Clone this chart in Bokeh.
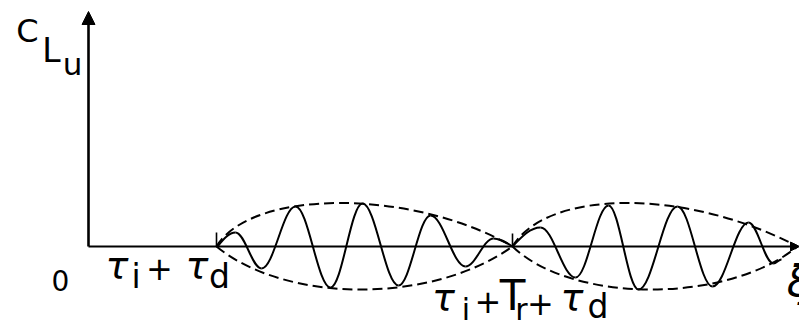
from bokeh.plotting import figure
from bokeh.models import Range1d, Arrow, NormalHead, ColumnDataSource
from bokeh.core.properties import value
from bokeh.embed import file_html
from bokeh.resources import INLINE

# Crests and troughs of the unsteady lift coefficient C_Lu along xi (drawing units)
burst1_xi = [217, 235, 261, 295, 330, 362, 398, 430, 465, 493, 512]
burst1_cl = [0, 14, -22, 40, -41, 43, -39, 31, -20, 8, 0]
burst2_xi = [512, 540, 575, 608, 638, 677, 712, 748, 773, 781]
burst2_cl = [0, 19, -31, 41, -43, 40, -40, 24, -17, -13]

# Dashed envelopes of the two bursts: start, end and peak amplitude
env_start = [216, 216, 512, 512]
env_end = [512, 512, 797, 797]
env_peak = [43.5, -43, 43.5, -43]

# Onsets of the bursts on the xi axis
onset_xi = [216, 512]

AXIS_Y = 246  # height of the xi axis in screen pixels from the top
W, H = 799, 324

p = figure(width=W, height=H, x_range=Range1d(0, W), y_range=Range1d(AXIS_Y - H, AXIS_Y),
           x_axis_type=None, y_axis_type=None, toolbar_location=None,
           output_backend="svg", min_border=0)
p.grid.visible = False
p.outline_line_color = None
p.background_fill_color = "white"
p.border_fill_color = "white"


def half_waves(xs, ys):
    """Cubic Bezier pieces between consecutive extrema (quarter / half sine shapes)."""
    cols = {k: [] for k in ("x0", "y0", "x1", "y1", "cx0", "cy0", "cx1", "cy1")}
    for xa, ya, xb, yb in zip(xs, ys, xs[1:], ys[1:]):
        dx = xb - xa
        if ya == 0:
            c0 = (xa + 0.334 * dx, ya + 0.525 * (yb - ya))
            c1 = (xa + 0.64 * dx, yb)
        elif yb == 0:
            c0 = (xa + 0.36 * dx, ya)
            c1 = (xa + 0.666 * dx, yb + 0.525 * (ya - yb))
        else:
            c0 = (xa + 0.364 * dx, ya)
            c1 = (xb - 0.364 * dx, yb)
        cols["x0"].append(xa); cols["y0"].append(ya)
        cols["x1"].append(xb); cols["y1"].append(yb)
        cols["cx0"].append(c0[0]); cols["cy0"].append(c0[1])
        cols["cx1"].append(c1[0]); cols["cy1"].append(c1[1])
    return ColumnDataSource(cols)


# envelopes: steeper where each burst builds up, gentler where it decays
rise = [35, 70, 35, 60]
fall = [100, 80, 110, 70]
env = ColumnDataSource(dict(
    x0=env_start, y0=[0] * 4, x1=env_end, y1=[0] * 4,
    cx0=[s + r for s, r in zip(env_start, rise)], cy0=[a / 0.75 for a in env_peak],
    cx1=[e - f for e, f in zip(env_end, fall)], cy1=[a / 0.75 for a in env_peak],
))
p.bezier(x0="x0", y0="y0", x1="x1", y1="y1", cx0="cx0", cy0="cy0", cx1="cx1", cy1="cy1",
         source=env, line_color="black", line_width=2, line_dash="10 5")

# xi axis and C_Lu axis
p.add_layout(Arrow(x_start=88, y_start=0, x_end=799, y_end=0, line_width=2.2, line_color="black",
                   end=NormalHead(size=9, fill_color="black", line_color="black", line_width=1)))
p.add_layout(Arrow(x_start=88, y_start=0, x_end=88, y_end=AXIS_Y - 11, line_width=2.6,
                   line_color="black",
                   end=NormalHead(size=13, fill_color="black", line_color="black", line_width=1)))

# lift response
for xs, ys in ((burst1_xi, burst1_cl), (burst2_xi, burst2_cl)):
    p.bezier(x0="x0", y0="y0", x1="x1", y1="y1", cx0="cx0", cy0="cy0", cx1="cx1", cy1="cy1",
             source=half_waves(xs, ys), line_color="black", line_width=2)

p.segment(x0=onset_xi, y0=[0, 0], x1=onset_xi, y1=[14, 13], line_color="black", line_width=1.6)

FONT = value("DejaVu Sans")
DESCENT = 0.236  # DejaVu Sans descent, in em


def label(txt, cx, base, size, style="normal"):
    # centre x and glyph baseline y in screen pixels; anchored on the bottom of the text box.
    # Bokeh gives digits and symbols a box without descent, letters one with it.
    descent = 0.0 if txt in ("0", "+") else DESCENT * size
    bottom = base + descent
    p.text(x=[cx], y=[AXIS_Y - bottom], text=[txt], text_font=FONT,
           text_font_size=value("%dpx" % size), text_font_style=style,
           text_align="center", text_baseline="bottom", text_color="black")


for t, cx, base, size in [("C", 27, 42, 32), ("L", 51, 62, 33), ("u", 72, 74, 31),
                          ("0", 60, 290, 28),
                          ("i", 135.5, 288, 33), ("+", 159, 279, 32), ("d", 219, 288, 33),
                          ("i", 465.5, 319, 30), ("+", 487.5, 312, 32), ("T", 512, 310, 42),
                          ("r", 521, 319, 30), ("+", 540, 314, 32), ("d", 597.5, 318, 33)]:
    label(t, cx, base, size)
for t, cx, base, size in [("τ", 116.5, 278, 38), ("τ", 196.5, 278, 38), ("τ", 443, 310, 38),
                          ("τ", 571.5, 310, 38), ("ξ", 798, 296, 42)]:
    label(t, cx, base, size, "italic")

open("out.html", "w").write(file_html(p, INLINE))
